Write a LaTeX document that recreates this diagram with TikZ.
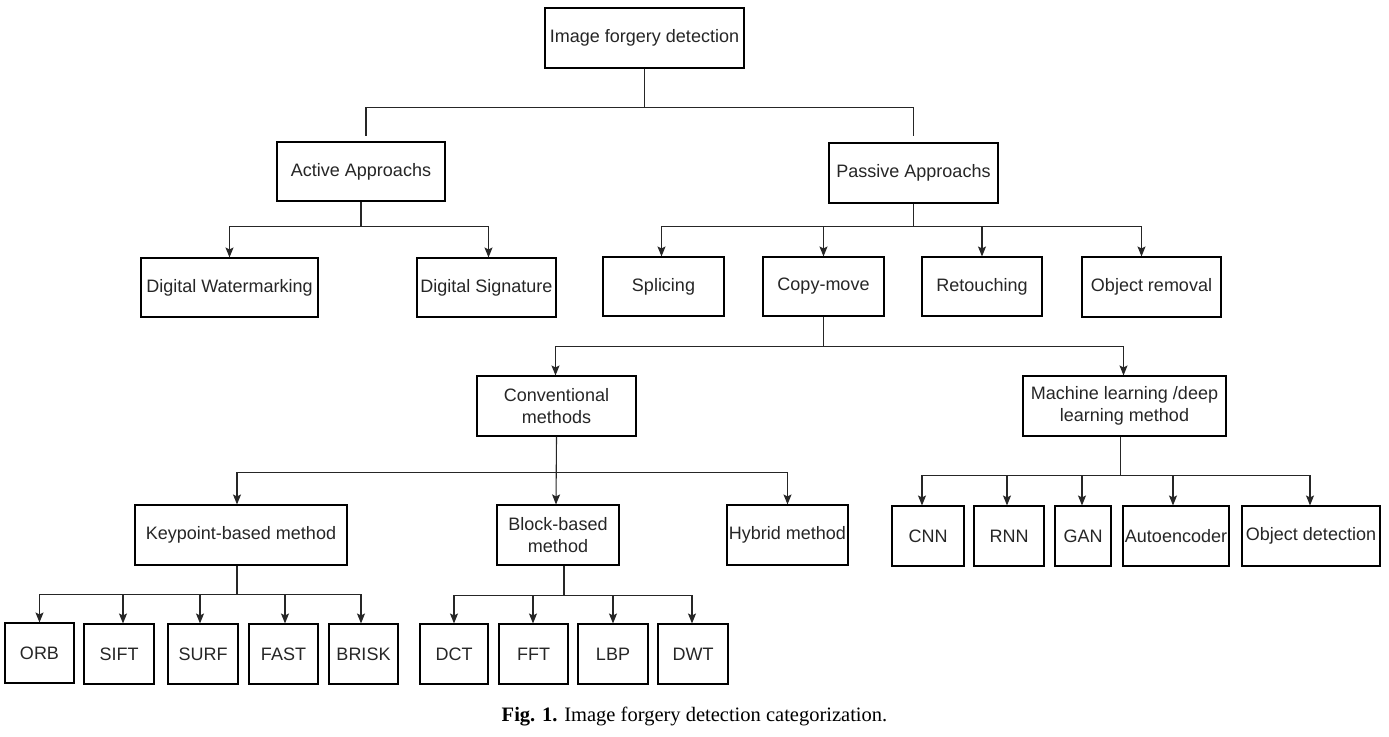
\documentclass[tikz,border=0pt]{standalone}
\usepackage{fontspec}
\setmainfont{Liberation Serif}
\newfontfamily\boxfont{Liberation Sans}
\usetikzlibrary{arrows.meta,calc}
\begin{document}
\begin{tikzpicture}[x=1pt,y=-1pt,
  box/.style={draw=black,line width=1.1pt,inner sep=1pt,align=center,
    font=\boxfont\fontsize{18}{22}\selectfont,text=black!85},
  conn/.style={draw=black!85,line width=1.1pt},
  arr/.style={conn,-{Stealth[length=10pt,width=8pt,inset=2pt]}}]
\useasboundingbox[fill=white] (0,0) rectangle (1389,736);
% level 0
\node[box,minimum width=199pt,minimum height=60pt] (root) at (644.5,38) {Image forgery detection};
% level 1
\node[box,minimum width=168pt,minimum height=59pt] (active) at (361,171.5) {Active Approachs};
\node[box,minimum width=169pt,minimum height=60pt] (passive) at (913.5,173) {Passive Approachs};
% level 2
\node[box,minimum width=177pt,minimum height=59pt] (dw) at (229.5,287.5) {Digital Watermarking};
\node[box,minimum width=139pt,minimum height=59pt] (ds) at (486.5,287.5) {Digital Signature};
\node[box,minimum width=121pt,minimum height=59pt] (spl) at (663.5,286.5) {Splicing};
\node[box,minimum width=121pt,minimum height=59pt] (cm) at (823.5,286.5) {Copy-move};
\node[box,minimum width=120pt,minimum height=59pt] (ret) at (982,286.5) {Retouching};
\node[box,minimum width=139pt,minimum height=60pt] (objrem) at (1151.5,287) {Object removal};
% level 3
\node[box,minimum width=159pt,minimum height=60pt] (conv) at (556.5,406) {Conventional\\methods};
\node[box,minimum width=203pt,minimum height=60pt] (ml) at (1124.5,406) {Machine learning /deep\\learning method};
% level 4
\node[box,minimum width=212pt,minimum height=60pt] (kp) at (241,535) {Keypoint-based method};
\node[box,minimum width=122pt,minimum height=60pt] (blk) at (558,535) {Block-based\\method};
\node[box,minimum width=121pt,minimum height=60pt] (hyb) at (787.5,535) {Hybrid method};
\node[box,minimum width=72pt,minimum height=60pt] (cnn) at (928,536) {CNN};
\node[box,minimum width=70pt,minimum height=60pt] (rnn) at (1009,536) {RNN};
\node[box,minimum width=56pt,minimum height=60pt] (gan) at (1083,536) {GAN};
\node[box,minimum width=106pt,minimum height=60pt] (ae) at (1176,536) {Autoencoder};
\node[box,minimum width=138pt,minimum height=60pt] (od) at (1311,536) {Object detection};
% level 5
\node[box,minimum width=69pt,minimum height=60pt] (orb) at (39.5,653) {ORB};
\node[box,minimum width=70pt,minimum height=60pt] (sift) at (119,654) {SIFT};
\node[box,minimum width=70pt,minimum height=60pt] (surf) at (203,654) {SURF};
\node[box,minimum width=69pt,minimum height=60pt] (fast) at (283.5,654) {FAST};
\node[box,minimum width=69pt,minimum height=60pt] (brisk) at (363.5,654) {BRISK};
\node[box,minimum width=68pt,minimum height=60pt] (dct) at (454,654) {DCT};
\node[box,minimum width=69pt,minimum height=60pt] (fft) at (533.5,654) {FFT};
\node[box,minimum width=70pt,minimum height=60pt] (lbp) at (613,654) {LBP};
\node[box,minimum width=70pt,minimum height=60pt] (dwt) at (693,654) {DWT};
% caption
\node[font=\fontsize{20.5}{24}\selectfont,inner sep=0pt] (cap) at (694.5,717) {\textbf{Fig. 1.} Image forgery detection categorization.};
% connectors
\coordinate (j0) at ($(root.south)+(0,39)$);
\draw[conn] (root.south) -- (j0);
\draw[conn,shorten >=5pt] (j0) -| ([xshift=5pt]active.north);
\draw[conn,shorten >=6pt] (j0) -| (passive.north);
\coordinate (j1) at ($(active.south)+(0,25)$);
\draw[conn] (active.south) -- (j1);
\draw[arr] (j1) -| (dw.north);
\draw[arr] (j1) -| ([xshift=2pt]ds.north);
\coordinate (j2) at ($(passive.south)+(0,23)$);
\draw[conn] (passive.south) -- (j2);
\draw[arr] (j2) -| ([xshift=-2pt]spl.north);
\draw[arr] (j2) -| (cm.north);
\draw[arr] (j2) -| (ret.north);
\draw[arr] (j2) -| ([xshift=-10pt]objrem.north);
\coordinate (j3) at ($(cm.south)+(0,30)$);
\draw[conn] (cm.south) -- (j3);
\draw[arr] (j3) -| ([xshift=-1pt]conv.north);
\draw[arr] (j3) -| ([xshift=-1pt]ml.north);
\coordinate (j4) at ($(conv.south)+(0,36)$);
\draw[arr] (conv.south) -- ([xshift=-2pt]blk.north);
\draw[arr] (j4) -| ([xshift=-4pt]kp.north);
\draw[arr] (j4) -| (hyb.north);
\coordinate (j5) at ($(ml.south)+(-4,39)$);
\draw[conn] ([xshift=-4pt]ml.south) -- (j5);
\draw[arr] (j5) -| ([xshift=-6pt]cnn.north);
\draw[arr] (j5) -| ([xshift=-2pt]rnn.north);
\draw[arr] (j5) -| ([xshift=-1pt]gan.north);
\draw[arr] (j5) -| ([xshift=-3pt]ae.north);
\draw[arr] (j5) -| ([xshift=-1pt]od.north);
\coordinate (j6) at ($(kp.south)+(-4,29)$);
\draw[conn] ([xshift=-4pt]kp.south) -- (j6);
\draw[arr] (j6) -| (orb.north);
\draw[arr] (j6) -| ([xshift=4pt]sift.north);
\draw[arr] (j6) -| ([xshift=-3pt]surf.north);
\draw[arr] (j6) -| ([xshift=1.5pt]fast.north);
\draw[arr] (j6) -| ([xshift=-2.5pt]brisk.north);
\coordinate (j7) at ($(blk.south)+(6,30)$);
\draw[conn] ([xshift=6pt]blk.south) -- (j7);
\draw[arr] (j7) -| (dct.north);
\draw[arr] (j7) -| ([xshift=-0.5pt]fft.north);
\draw[arr] (j7) -| (lbp.north);
\draw[arr] (j7) -| ([xshift=-1pt]dwt.north);
\end{tikzpicture}
\end{document}
